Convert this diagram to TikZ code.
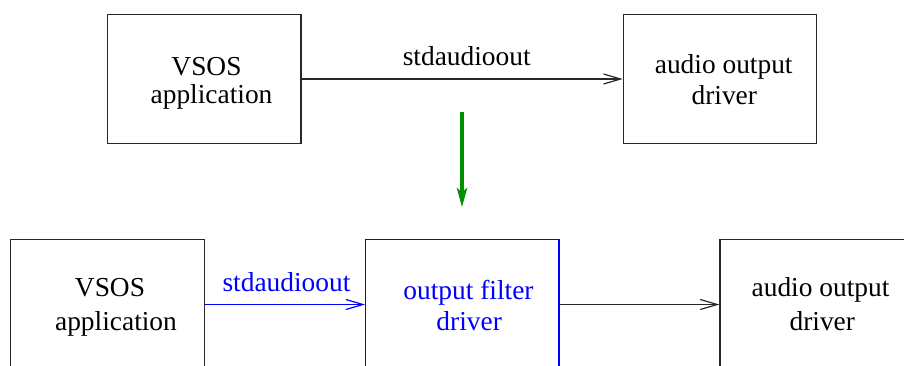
\documentclass[tikz,border=0pt]{standalone}
\usepackage{fontspec}
\setmainfont{Liberation Serif}
\usetikzlibrary{arrows.meta}
\definecolor{fgreen}{RGB}{0,144,0}
\definecolor{lineg}{RGB}{40,40,40}
\begin{document}
\begin{tikzpicture}[x=1pt,y=-1pt,
  box/.style={draw=lineg,line width=1.2pt,minimum width=193.4pt,minimum height=129.4pt,inner sep=0pt},
  bbox/.style={box,draw=blue},
  lbl/.style={anchor=base,inner sep=0pt,font=\fontsize{27.4pt}{30pt}\selectfont},
  arr/.style={draw=lineg,line width=1.2pt,-{Straight Barb[length=17pt,width=10pt,line width=1.2pt]}},
  barr/.style={arr,draw=blue},
  garr/.style={draw=fgreen,line width=4.6pt,-{Stealth[length=19pt,width=10pt,inset=4pt]}}]
\useasboundingbox (0,0) rectangle (904,365);
\clip (0,0) rectangle (904,365);
% top row
\node[box] (tl) at (204.25,79) {};
\node[box] (tr) at (720,79) {};
\node[lbl] (t1) at (206.5,75) {VSOS};
\node[lbl] (t2) at (211.5,103.5) {application};
\node[lbl] (t3) at (723.7,73.3) {audio output};
\node[lbl] (t4) at (724.3,104) {driver};
\draw[arr] (tl.east) -- (tr.west);
\node[lbl] (tlab) at (466.7,65) {stdaudioout};
% green arrow
\coordinate (g1) at (462,111.7);
\coordinate (g2) at (462,207.3);
\draw[garr] (g1) -- (g2);
% bottom row
\node[box] (bl) at (107.5,304.5) {};
\node[bbox] (bm) at (462.3,304.5) {};
\node[box] (br) at (816.7,304.5) {};
\node[lbl] (b1) at (110,296.7) {VSOS};
\node[lbl] (b2) at (116,330.7) {application};
\node[lbl,text=blue] (b3) at (468.5,299) {output filter};
\node[lbl,text=blue] (b4) at (469.2,330.7) {driver};
\node[lbl] (b5) at (820.5,296.7) {audio output};
\node[lbl] (b6) at (822.3,330.7) {driver};
\draw[barr] (bl.east) -- (bm.west);
\node[lbl,text=blue] (blab) at (286.5,291.7) {stdaudioout};
\draw[arr] (bm.east) -- (br.west);
\end{tikzpicture}
\end{document}
